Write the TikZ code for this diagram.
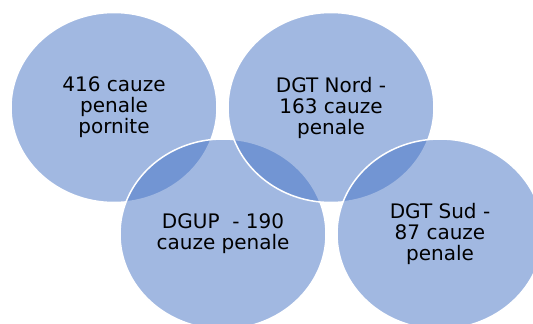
\documentclass[tikz,border=0pt]{standalone}
\usepackage{fontspec}
\setmainfont{DejaVu Sans}
\usetikzlibrary{shapes.geometric}
\definecolor{vennblue}{RGB}{68,114,196}
\begin{document}
\begin{tikzpicture}[x=1pt,y=-1pt,
  venn/.style={ellipse,draw=white,line width=1.5pt,fill=vennblue,fill opacity=0.5,text opacity=1,minimum width=206pt,minimum height=190pt,inner sep=0pt,outer sep=0pt,align=center,font=\fontsize{20}{21}\selectfont}]
        \useasboundingbox (0,0) rectangle (533,324);
        \clip (0,0) rectangle (533,324);
        \coordinate (p1) at (114,107.5);
        \coordinate (p2) at (331,107.5);
        \coordinate (p3) at (223,234);
        \coordinate (p4) at (440,234);
        % drawn in this order so the white rims lie right
        \node[venn] (pornite) at (p1) {416 cauze\\penale\\pornite};
        \node[venn] (dgup) at (p3) {DGUP\ \ - 190\\cauze penale};
        \node[venn] (nord) at (p2) {DGT Nord -\\163 cauze\\penale};
        \node[venn] (sud) at (p4) {DGT Sud -\\87 cauze\\penale};
      \end{tikzpicture}
\end{document}
